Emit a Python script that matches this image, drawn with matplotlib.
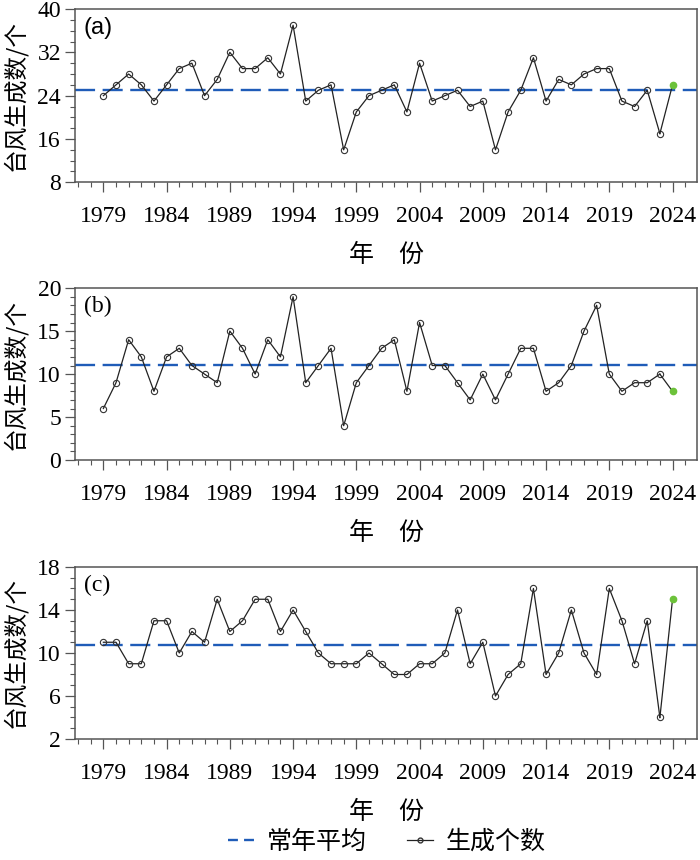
import matplotlib
matplotlib.use('Agg')
import matplotlib.pyplot as plt
from matplotlib.lines import Line2D
from matplotlib.ticker import MultipleLocator, FixedLocator
import numpy as np

plt.rcParams['font.family'] = ['Liberation Serif', 'Noto Sans CJK SC']

years = list(range(1979, 2025))

# (a) 
count_a = [24, 26, 28, 26, 23, 26, 29, 30, 24, 27,
           32, 29, 29, 31, 28, 37, 23, 25, 26, 14,
           21, 24, 25, 26, 21, 30, 23, 24, 25, 22,
           23, 14, 21, 25, 31, 23, 27, 26, 28, 29,
           29, 23, 22, 25, 17, 26]
mean_a = 25.1
yticks_a = [8, 16, 24, 32, 40]

# (b)
count_b = [6, 9, 14, 12, 8, 12, 13, 11, 10, 9,
           15, 13, 10, 14, 12, 19, 9, 11, 13, 4,
           9, 11, 13, 14, 8, 16, 11, 11, 9, 7,
           10, 7, 10, 13, 13, 8, 9, 11, 15, 18,
           10, 8, 9, 9, 10, 8]
mean_b = 11.1
yticks_b = [0, 5, 10, 15, 20]

# (c)
count_c = [11, 11, 9, 9, 13, 13, 10, 12, 11, 15,
           12, 13, 15, 15, 12, 14, 12, 10, 9, 9,
           9, 10, 9, 8, 8, 9, 9, 10, 14, 9,
           11, 6, 8, 9, 16, 8, 10, 14, 10, 8,
           16, 13, 9, 13, 4, 15]
mean_c = 10.7
yticks_c = [2, 6, 10, 14, 18]

panels = [
    ('(a)', count_a, mean_a, yticks_a, 2),
    ('(b)', count_b, mean_b, yticks_b, 1),
    ('(c)', count_c, mean_c, yticks_c, 1),
]
tick_years = list(range(1979, 2025, 5))

# axes boxes in figure fraction: [left, bottom, width, height]
boxes = [
    [0.107, 0.788, 0.889, 0.2015],
    [0.107, 0.465, 0.889, 0.2000],
    [0.107, 0.1407, 0.889, 0.2000],
]

blue = '#1f5cb8'
green = '#6cc23a'
frame = '#555555'

fig = plt.figure(figsize=(7, 8.6), dpi=100)

for i, (tag, vals, avg, yticks, minor) in enumerate(panels):
    ax = fig.add_axes(boxes[i])
    ax.axhline(avg, color=blue, lw=1.7, linestyle=(0, (8.5, 3.2)), zorder=2)
    ax.plot(years[:-1], vals[:-1], color='#222222', lw=0.9, marker='o', ms=4.5,
            mfc='none', mec='#333333', mew=0.8, zorder=3)
    ax.plot(years[-2:], vals[-2:], color='#222222', lw=0.9, zorder=3)
    ax.plot(years[-1], vals[-1], 'o', color=green, ms=4.5, zorder=4)

    ax.set_xlim(1976.75, 2025.95)
    ax.set_ylim(yticks[0], yticks[-1])
    ax.xaxis.set_major_locator(FixedLocator(tick_years))
    ax.xaxis.set_minor_locator(MultipleLocator(1))
    ax.yaxis.set_major_locator(FixedLocator(yticks))
    ax.yaxis.set_minor_locator(MultipleLocator(minor))
    ax.set_xticklabels([str(y) for y in tick_years])
    ax.tick_params(which='major', direction='out', length=7, width=0.9,
                   color=frame, labelsize=17)
    ax.tick_params(which='minor', direction='out', length=3.5, width=0.8,
                   color=frame)
    ax.tick_params(axis='x', which='major', pad=10)
    ax.tick_params(axis='y', which='major', pad=3)
    for sp in ax.spines.values():
        sp.set_color(frame)
        sp.set_linewidth(1.1)

    tag_font = 'Liberation Sans' if tag == '(a)' else 'Liberation Serif'
    ax.text(0.014, 0.955, tag, transform=ax.transAxes, ha='left', va='top',
            fontsize=17, family=tag_font)

    ax.set_xlabel('年\u3000份', fontsize=18, family=['Noto Sans CJK SC'], labelpad=11)
    b = boxes[i]
    fig.text(0.021, b[1] + b[3] / 2, '台风生成数/个', rotation=90, ha='center',
             va='center', fontsize=17, family=['Noto Sans CJK SC', 'Liberation Serif'])

handles = [
    Line2D([], [], color=blue, lw=1.7, linestyle=(0, (4.2, 2.6))),
    Line2D([], [], color='#222222', lw=0.9, marker='o', ms=3.5, mfc='none',
           mec='#333333'),
]
fig.legend(handles, ['常年平均', '生成个数'], loc='center', ncol=2,
           bbox_to_anchor=(0.553, 0.021), frameon=False, handlelength=1.05,
           columnspacing=1.6, handletextpad=0.5,
           prop={'family': ['Noto Sans CJK SC'], 'size': 18})

fig.savefig('out.png', dpi=100)
